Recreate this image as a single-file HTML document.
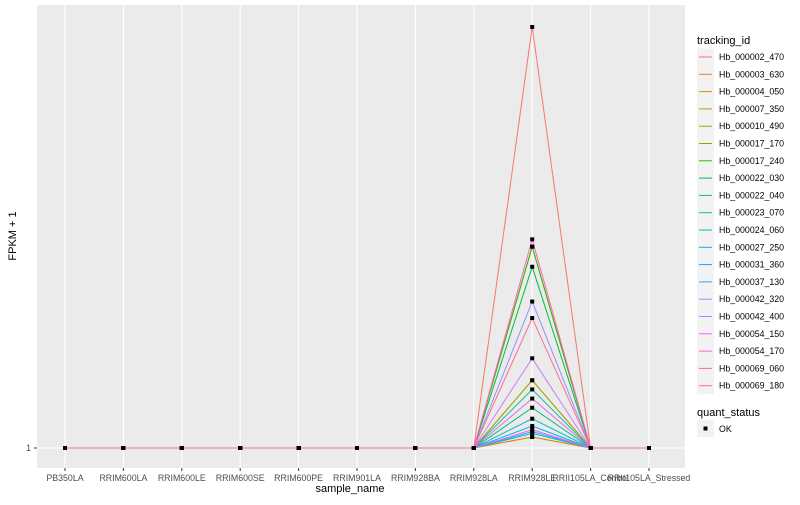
<!DOCTYPE html>
<html><head><meta charset="utf-8"><style>
body{margin:0;background:#fff;font-family:"Liberation Sans",sans-serif;}
svg text{font-family:"Liberation Sans",sans-serif;}
</style></head><body>
<svg id="chart" width="800" height="500" xmlns="http://www.w3.org/2000/svg">
<rect x="37" y="5" width="648" height="463" fill="#ebebeb"/>
<g id="grid"></g><g id="lines"></g><g id="pts"></g><g id="axes"></g><g id="legend"></g>
</svg>
<script>
const categories=["PB350LA","RRIM600LA","RRIM600LE","RRIM600SE","RRIM600PE","RRIM901LA","RRIM928BA","RRIM928LA","RRIM928LE","RRII105LA_Control","RRII105LA_Stressed"];
const seriesNames=["Hb_000002_470","Hb_000003_630","Hb_000004_050","Hb_000007_350","Hb_000010_490","Hb_000017_170","Hb_000017_240","Hb_000022_030","Hb_000022_040","Hb_000023_070","Hb_000024_060","Hb_000027_250","Hb_000031_360","Hb_000037_130","Hb_000042_320","Hb_000042_400","Hb_000054_150","Hb_000054_170","Hb_000069_060","Hb_000069_180"];
const peakValues=[24,1.6,1.6,4.7,4.7,12.0,12.0,10.9,3.2,4.2,2.6,1.8,2.2,1.9,9.0,5.9,3.7,2.0,12.4,8.1];
const peakIndex=8;
const yTicks=[1];
const colors=["#F8766D","#EA8331","#D89000","#C09B00","#A3A500","#7CAE00","#39B600","#00BB4E","#00BF7D","#00C1A3","#00BFC4","#00BAE0","#00B0F6","#35A2FF","#9590FF","#C77CFF","#E76BF3","#FA62DB","#FF62BC","#FF6C91"];
const NS="http://www.w3.org/2000/svg";
function mk(tag,attrs,parent){const e=document.createElementNS(NS,tag);for(const k in attrs)e.setAttribute(k,attrs[k]);parent.appendChild(e);return e;}
const x=i=>65+i*(649-65)/(categories.length-1);
const y=v=>448-(v-1)*(421/23);
const grid=document.getElementById('grid'),lines=document.getElementById('lines'),pts=document.getElementById('pts'),axes=document.getElementById('axes'),leg=document.getElementById('legend');
categories.forEach((c,i)=>{
 const g=mk('line',{x1:x(i),x2:x(i),y1:5,y2:468,stroke:'#fff','stroke-width':1.1},grid);
 
 
 mk('line',{x1:x(i),x2:x(i),y1:468,y2:471,stroke:'#333'},axes);
 const t=mk('text',{x:x(i),y:481,'font-size':8.8,fill:'#4d4d4d','text-anchor':'middle'},axes);t.textContent=c;
 
 
});
yTicks.forEach(v=>{
 const g=mk('line',{x1:37,x2:685,y1:y(v),y2:y(v),stroke:'#fff','stroke-width':1.1},grid);
 
 
 mk('line',{x1:34,x2:37,y1:y(v),y2:y(v),stroke:'#333'},axes);
 const t=mk('text',{x:31,y:y(v)+3,'font-size':8.8,fill:'#4d4d4d','text-anchor':'end'},axes);t.textContent=v;
 
 
});
seriesNames.forEach((s,si)=>{
 const vals=categories.map((c,i)=>i===peakIndex?peakValues[si]:1);
 const p=mk('polyline',{points:vals.map((v,i)=>x(i)+','+y(v)).join(' '),fill:'none',stroke:colors[si],'stroke-width':1},lines);
 
 
 vals.forEach((v,i)=>{
  const r=mk('rect',{x:x(i)-2,y:y(v)-2,width:4,height:4,fill:'#000'},pts);
  
  
 });
 const ly=57+si*17.3;
 mk('rect',{x:697,y:ly-8.5,width:17,height:17,fill:'#f2f2f2'},leg);
 mk('line',{x1:699,x2:712,y1:ly,y2:ly,stroke:colors[si]},leg);
 const t=mk('text',{x:719,y:ly+3,'font-size':8.8,fill:'#000'},leg);t.textContent=s;
 
 
});
</script>
<svg style="position:absolute;left:0;top:0" width="800" height="500" xmlns="http://www.w3.org/2000/svg">
<text x="350" y="492" font-size="11" text-anchor="middle">sample_name</text>
<text transform="translate(16,236) rotate(-90)" font-size="11" text-anchor="middle">FPKM + 1</text>
<text x="697" y="44" font-size="11">tracking_id</text>
<text x="697" y="416" font-size="11">quant_status</text>
<rect x="697" y="420" width="17" height="17" fill="#f2f2f2"/>
<rect x="703.5" y="426.5" width="4" height="4" fill="#000"/>
<text x="719" y="432" font-size="8.8">OK</text>
</svg>
</body></html>
